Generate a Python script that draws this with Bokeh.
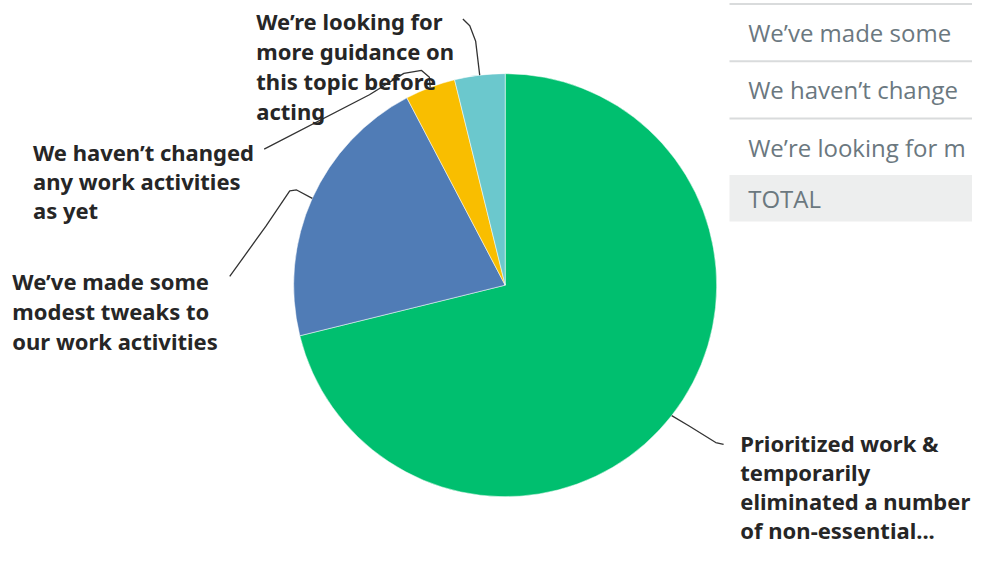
from bokeh.plotting import figure
from bokeh.models import Range1d, ColumnDataSource
from bokeh.embed import file_html
from bokeh.resources import INLINE
from bokeh.core.properties import value
import numpy as np

# ---- data ----
answers = [
    "Prioritized work & temporarily eliminated a number of non-essential...",
    "We\u2019ve made some modest tweaks to our work activities",
    "We haven\u2019t changed any work activities as yet",
    "We\u2019re looking for more guidance on this topic before acting",
]
responses = [37, 11, 2, 2]
colors = ["#00bf6f", "#507cb6", "#f9be00", "#6bc8cd"]
label_lines = [
    ["Prioritized work &", "temporarily", "eliminated a number", "of non-essential..."],
    ["We\u2019ve made some", "modest tweaks to", "our work activities"],
    ["We haven\u2019t changed", "any work activities", "as yet"],
    ["We\u2019re looking for", "more guidance on", "this topic before", "acting"],
]
# table rows as far as they are visible in the view
table_labels = ["Prioritized work & temporarily",
                "We\u2019ve made some",
                "We haven\u2019t change",
                "We\u2019re looking for m",
                "TOTAL"]

# ---- layout (reference px, mapped onto the figure) ----
W, H = 972, 546
REF_W, REF_H = 988, 562
KX, KY = W / REF_W, H / REF_H
def Y(sy):
    return REF_H - sy

cx, cy, R = 513, Y(293), 215
label_pos = [(752, 455), (12, 289), (33, 156), (260, 21)]
line_gaps = [30, 30.5, 30, 31]
leader_via = [
    [(735, 457), (727, 455), (700, 438)],
    [(233, 284), (270, 232), (294, 196), (301, 195)],
    [(268, 153), (375, 97), (410, 75), (428, 72), (436, 79)],
    [(470, 19), (477, 26), (483, 42)],
]

p = figure(width=W, height=H, output_backend="svg", toolbar_location=None,
           x_range=Range1d(0, REF_W), y_range=Range1d(0, REF_H),
           x_axis_type=None, y_axis_type=None, min_border=0)
p.outline_line_color = None
p.xgrid.visible = False
p.ygrid.visible = False
p.background_fill_color = "white"

# ---- table on the right ----
row_h = 59
row0_c = -26
tx0 = 741
n = len(table_labels)
row_centres = [row0_c + i * row_h for i in range(n)]
sep_y = [row_centres[i] + row_h / 2 for i in range(n - 2)]
p.segment(x0=[tx0] * len(sep_y), x1=[1000] * len(sep_y),
          y0=[Y(s) for s in sep_y], y1=[Y(s) for s in sep_y],
          line_color="#d9dbdc", line_width=2)
tot_top = row_centres[-2] + row_h / 2 - 1
tot_bot = tot_top + 48
p.quad(left=[tx0], right=[1000], top=[Y(tot_top)], bottom=[Y(tot_bot)],
       fill_color="#edeeee", line_color=None)
p.text(x=[760] * (n - 1), y=[Y(c) for c in row_centres[1:-1]] + [Y((tot_top + tot_bot) / 2)],
       text=table_labels[1:], text_font=value("Open Sans"), text_font_size="24px",
       text_color="#6b787f", text_baseline="middle", text_align="left")

# ---- pie ----
vals = np.array(responses, dtype=float)
frac = vals / vals.sum()
cum = np.concatenate([[0], np.cumsum(frac)])
start = np.pi / 2 - 2 * np.pi * cum[:-1]
end = np.pi / 2 - 2 * np.pi * cum[1:]
src = ColumnDataSource(dict(start=start, end=end, color=colors))
p.wedge(x=cx, y=cy, radius=R, start_angle="start", end_angle="end",
        direction="clock", fill_color="color", line_color="white", line_width=0.5,
        source=src)

# ---- leader lines ----
mid = np.pi / 2 - 2 * np.pi * (cum[:-1] + frac / 2)
xs, ys = [], []
for i in range(len(answers)):
    ax = cx + R * np.cos(mid[i])
    ay = cy + R * np.sin(mid[i]) * KX / KY
    pts = leader_via[i]
    xs.append([q[0] for q in pts] + [ax])
    ys.append([Y(q[1]) for q in pts] + [ay])
p.multi_line(xs=xs, ys=ys, line_color="#333333", line_width=1.3)

# ---- labels ----
lx, ly, lt = [], [], []
for i, lines in enumerate(label_lines):
    x0, y0 = label_pos[i]
    for j, t in enumerate(lines):
        lx.append(x0)
        ly.append(Y(y0 + j * line_gaps[i]))
        lt.append(t)
p.text(x=lx, y=ly, text=lt, text_font=value("Noto Sans"), text_font_size="22px",
       text_font_style="bold", text_color="#262626", text_baseline="middle",
       text_align="left")

open("out.html", "w").write(file_html(p, INLINE))
